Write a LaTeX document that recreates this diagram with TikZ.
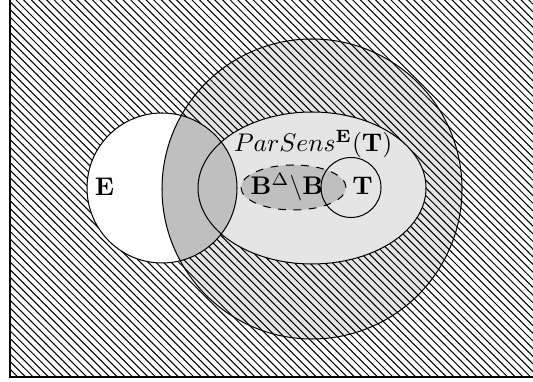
\documentclass[tikz,border=0pt]{standalone}
\usepackage{amsmath}
\usetikzlibrary{patterns}
\begin{document}
\begin{tikzpicture}[x=0.392pt,y=0.392pt,
  outline/.style={draw=black,line width=0.4pt},
  hatch/.style={pattern=north west lines,pattern color=black},
  lbl/.style={anchor=base,inner sep=0pt}]
\useasboundingbox (0,0) rectangle (533,382);
% universe (hatched)
\draw[outline,hatch] (10,5) rectangle (570,410);
% big circle: light gray + hatch
\fill[gray!20] (312,193) circle[radius=150];
\fill[hatch] (312,193) circle[radius=150];
% E circle white
\fill[white] (162,194) circle[radius=75];
% ParSens ellipse light gray
\fill[gray!20] (312,194) ellipse[x radius=114,y radius=76];
% E intersect big circle darker gray
\begin{scope}
  \clip (162,194) circle[radius=75];
  \fill[gray!50] (312,193) circle[radius=150];
\end{scope}
% outlines
\draw[outline] (312,193) circle[radius=150];
\draw[outline] (162,194) circle[radius=75];
\draw[outline] (312,194) ellipse[x radius=114,y radius=76];
% B ellipse
\draw[outline,dashed,fill=gray!50] (293.5,194.5) ellipse[x radius=52.5,y radius=22.5];
% T circle
\draw[outline] (351,194.5) circle[radius=30];
% labels
\node[lbl] (lblE) at (104.5,186) {$\mathbf{E}$};
\node (lblP) at (313,238) {$ParSens^{\mathbf{E}}(\mathbf{T})$};
\node[lbl] (lblB) at (287,187) {$\mathbf{B}^\Delta\backslash\mathbf{B}$};
\node[lbl] (lblT) at (362.5,187) {$\mathbf{T}$};
\end{tikzpicture}
\end{document}
